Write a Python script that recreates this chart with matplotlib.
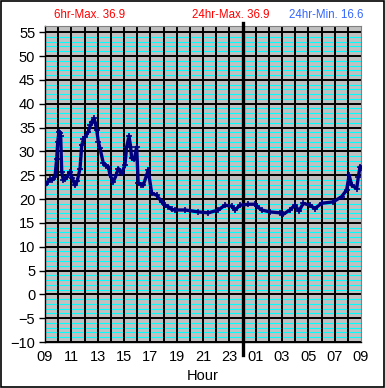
"""
24 hour temperature chart (09 to 09)
"""

import numpy as np
import matplotlib
matplotlib.use('Agg')
import matplotlib.pyplot as plt
from matplotlib.patches import Rectangle

plt.rcParams['font.family'] = ['Liberation Sans', 'DejaVu Sans']

# hours since 09:00 and temperature readings
hours = [0, 0.2, 0.38, 0.55, 0.76, 0.89, 0.97, 1.06, 1.12, 1.19, 1.27, 1.39,
         1.55, 1.77, 1.9, 2.05, 2.28, 2.45, 2.66, 2.79, 2.92, 3.04, 3.29, 3.45,
         3.55, 3.72, 3.82, 3.93, 4.05, 4.18, 4.43, 4.6, 4.81, 4.94, 5.19, 5.4,
         5.57, 5.82, 6.07, 6.2, 6.38, 6.5, 6.58, 6.78, 6.96, 7.08, 7.3, 7.46,
         7.72, 7.84, 8.1, 8.48, 8.86, 9.11, 9.36, 9.62, 9.87, 10.63, 11.64, 12.4,
         13.16, 13.67, 14.17, 14.43, 14.81, 15.44, 15.95, 16.07, 16.45, 17.08,
         17.84, 18.09, 18.6, 18.98, 19.3, 19.61, 20.12, 20.5, 21.0, 21.89, 22.53,
         22.91, 23.1, 23.29, 23.67, 23.8, 23.93, 24.0]
temps = [22.9, 23.6, 24.2, 24.0, 24.7, 28.5, 32.0, 34.1, 33.8, 33.2, 25.7, 24.0,
         24.2, 25.0, 25.7, 24.5, 22.9, 23.8, 26.4, 31.3, 32.5, 33.0, 34.1, 35.5,
         36.2, 36.9, 36.0, 34.4, 32.0, 30.6, 27.5, 27.0, 26.8, 25.0, 23.6, 25.0,
         26.4, 25.4, 27.1, 30.9, 33.2, 31.0, 28.6, 28.3, 30.9, 23.3, 23.0, 22.9,
         25.0, 26.1, 21.2, 20.8, 19.4, 18.7, 18.4, 17.8, 17.7, 17.7, 17.3, 17.1,
         17.7, 18.7, 18.5, 17.7, 18.7, 18.9, 18.9, 18.5, 17.7, 17.3, 17.1, 16.8,
         17.7, 18.7, 17.5, 19.1, 18.7, 18.0, 19.1, 19.4, 20.5, 21.9, 25.0, 22.9,
         22.2, 24.7, 26.8, 26.5]

hour_labels = ['09', '11', '13', '15', '17', '19', '21', '23',
               '01', '03', '05', '07', '09']
y_ticks = list(range(-10, 56, 5))

six_hr_max = 36.9
day_max = 36.9
day_min = 16.6

fig = plt.figure(figsize=(3.85, 3.88), dpi=100)
ax = fig.add_axes([45/385, 1 - 342/388, 316/385, 316/388])
ax.set_facecolor('#c0c0c0')

# minor cyan lines at each degree, black grid on the 5s and each hour
for v in range(-9, 56):
    if v % 5 != 0:
        ax.axhline(v, color='#00ffff', lw=0.8, zorder=1)
for v in y_ticks:
    ax.axhline(v, color='black', lw=1.4, zorder=2)
for h in range(1, 24):
    ax.axvline(h, color='black', lw=1.4, zorder=2)

# midnight marker sticks out past the plot
ax.axvline(15, ymin=-0.041, ymax=1.008, color='black', lw=2.4,
           clip_on=False, zorder=3)

ax.plot(hours, temps, color='#000080', lw=2.4, marker='+', ms=5, mew=1.2,
        zorder=4)

ax.set_xlim(0, 24)
ax.set_ylim(-10, 56.3)
ax.set_xticks(range(0, 25, 2))
ax.set_xticklabels(hour_labels)
ax.set_yticks(y_ticks)
ax.tick_params(axis='x', length=0, pad=6, labelsize=10.5)
ax.tick_params(axis='y', length=4, width=1, pad=3, labelsize=10.5)
ax.set_xlabel('Hour', fontsize=10.5, labelpad=3)

for side in ['top', 'right']:
    ax.spines[side].set_color('#808080')
for side in ['left', 'bottom']:
    ax.spines[side].set_color('black')
    ax.spines[side].set_linewidth(1)

fig.text(54/385, 1 - 15/388, f'6hr-Max. {six_hr_max}', color='red',
         fontsize=8.3, va='center', ha='left')
fig.text(192/385, 1 - 15/388, f'24hr-Max. {day_max}', color='red',
         fontsize=8.3, va='center', ha='left')
fig.text(289/385, 1 - 15/388, f'24hr-Min. {day_min}', color='#3366ff',
         fontsize=8.3, va='center', ha='left')

# outer border
fig.patches.append(Rectangle((0.002, 0.002), 0.996, 0.995, fill=False,
                             edgecolor='black', lw=1.2,
                             transform=fig.transFigure))

fig.savefig('out.png', dpi=100)
